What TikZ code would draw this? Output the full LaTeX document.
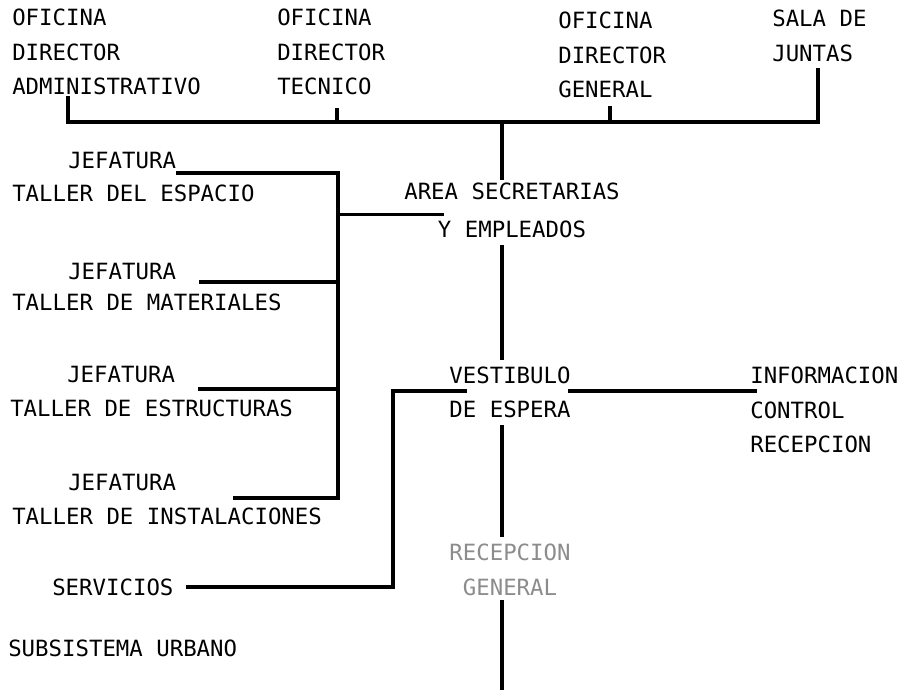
\documentclass[tikz,border=0pt]{standalone}
\usepackage{fontspec}
\setmainfont{DejaVu Sans Mono}

\begin{document}
\begin{tikzpicture}[x=0.025cm, y=-0.025cm,
  lbl/.style={inner sep=0pt, anchor=west, align=left, font=\fontsize{15.9}{24.5}\selectfont},
  mid/.style={inner sep=0pt, align=center, font=\fontsize{15.9}{24.5}\selectfont},
  wire/.style={line width=2.6pt}
]
\useasboundingbox (0,0) rectangle (911,693);

% Offices on top
\node[lbl] (adm) at (12,52) {OFICINA\\DIRECTOR\\ADMINISTRATIVO};
\node[lbl] (tec) at (277,52) {OFICINA\\DIRECTOR\\TECNICO};
\node[lbl] (gen) at (558,55) {OFICINA\\DIRECTOR\\GENERAL};
\node[lbl] (sala) at (772,36) {SALA DE\\JUNTAS};
\coordinate (bus) at (502,122);

\draw[wire] ([shift={(56,1)}]adm.south west) |- (bus) -| ([shift={(46,6)}]sala.south west);
\draw[wire] ([shift={(60,13)}]tec.south west) coordinate (tTec) -- (tTec |- bus);
\draw[wire] ([shift={(52,8)}]gen.south west) coordinate (tGen) -- (tGen |- bus);

% Middle column
\node[mid, font=\fontsize{15.9}{27}\selectfont] (area) at (512,210.5) {AREA SECRETARIAS\\Y EMPLEADOS};
\node[mid] (vest) at (510,392.5) {VESTIBULO\\DE ESPERA};
\node[mid, text=black!45] (recep) at (510,570) {RECEPCION\\GENERAL};
\coordinate (exit) at (502,690);

\draw[wire] (bus) -- ([shift={(0,-3)}]area.north -| bus);
\draw[wire] ([shift={(0,7)}]area.south -| bus) -- ([shift={(0,-7)}]vest.north -| bus);
\draw[wire] ([shift={(0,7)}]vest.south -| bus) -- ([shift={(0,-7)}]recep.north -| bus);
\draw[wire] ([shift={(0,4)}]recep.south -| bus) -- (exit);

% Workshop heads
\node[lbl] (jefA) at (68,161) {JEFATURA};
\node[lbl] (tallerA) at (12,193) {TALLER DEL ESPACIO};
\node[lbl] (jefB) at (68,271) {JEFATURA};
\node[lbl] (tallerB) at (12,302) {TALLER DE MATERIALES};
\node[lbl] (jefC) at (67,374) {JEFATURA};
\node[lbl] (tallerC) at (10,408) {TALLER DE ESTRUCTURAS};
\node[lbl] (jefD) at (68,482) {JEFATURA};
\node[lbl] (tallerD) at (12,516) {TALLER DE INSTALACIONES};
\coordinate (trunk) at (338,173);

\draw[wire] ([shift={(0,12)}]jefA.east) -- (trunk) |- ([shift={(57,16)}]jefD.east);
\draw[wire] ([shift={(23,11)}]jefB.east) coordinate (bB) -- (bB -| trunk);
\draw[wire] ([shift={(23,15)}]jefC.east) coordinate (bC) -- (bC -| trunk);
\draw[wire] ([shift={(40,4)}]area.west) coordinate (bArea) -- (bArea -| trunk);

% Lobby branches
\node[lbl] (serv) at (52,587) {SERVICIOS};
\node[lbl] (info) at (750,410) {INFORMACION\\CONTROL\\RECEPCION};
\node[lbl] (urb) at (8,648) {SUBSISTEMA URBANO};

\draw[wire] ([shift={(18,-1.5)}]vest.west) -- ++(-74,0) |- ([shift={(12,0)}]serv.east);
\draw[wire] ([shift={(-3,-1.5)}]vest.east) -- ([shift={(7,-19)}]info.west);

\end{tikzpicture}
\end{document}
